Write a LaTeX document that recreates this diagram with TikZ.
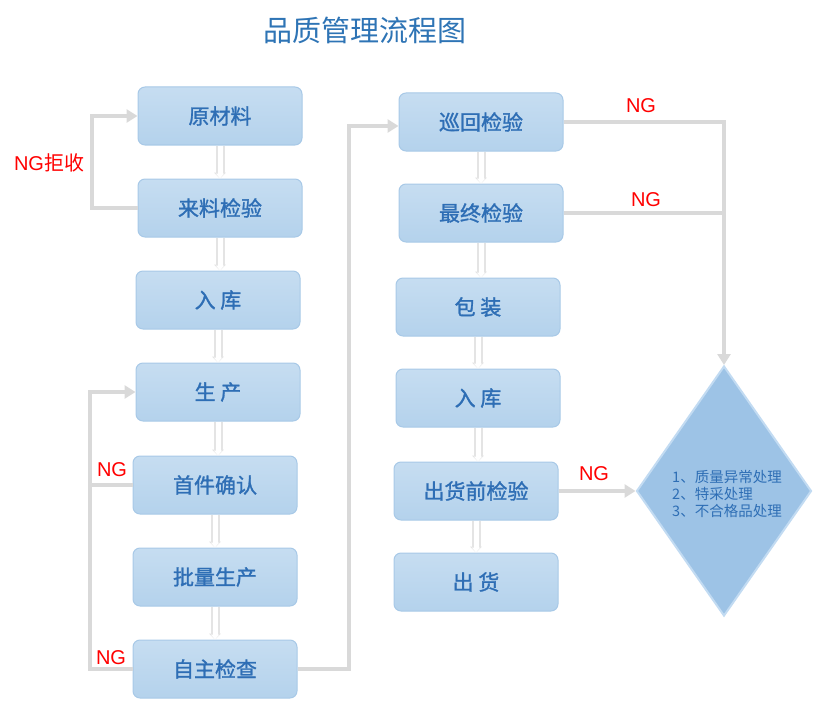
\documentclass[tikz,border=0pt]{standalone}
\usepackage{fontspec}
\setmainfont{Liberation Sans}
\newfontfamily\cjk{Noto Sans CJK SC}
\newfontfamily\cjkbox[FakeBold=1.3]{Noto Sans CJK SC}
\usetikzlibrary{arrows.meta,shapes.geometric,calc}

\definecolor{boxtop}{HTML}{C6DDF1}
\definecolor{boxbot}{HTML}{B4D2EC}
\definecolor{boxedge}{HTML}{A8C9E7}
\definecolor{boxtext}{HTML}{2E6EB5}
\definecolor{linegray}{HTML}{D9D9D9}
\definecolor{shadegray}{HTML}{E4E4E4}
\definecolor{diafill}{HTML}{9DC3E6}
\definecolor{diaedge}{HTML}{C2DBF2}
\definecolor{titleblue}{HTML}{2E74B5}

\tikzset{
  stepbox/.style={draw=boxedge, line width=1pt, rounded corners=7pt,
    top color=boxtop, bottom color=boxbot, minimum width=164pt,
    minimum height=58pt, text=boxtext,
    font=\cjkbox\fontsize{21}{24}\selectfont},
  ngline/.style={draw=linegray, line width=4pt},
  ngarrow/.style={ngline, -{Triangle[length=11pt,width=13pt]}},
  flowarrow/.style={draw=white, line width=5pt, -{Triangle[length=5pt,width=8pt]},
    preaction={draw=shadegray, line width=9pt, -{Triangle[length=6pt,width=12pt]}}},
  nglabel/.style={text=red, font=\fontsize{20}{23}\selectfont}
}

\begin{document}
\begin{tikzpicture}[x=1pt,y=-1pt]
\useasboundingbox (0,0) rectangle (815,701);

% Title
\node[text=titleblue, font=\cjk\fontsize{29}{32}\selectfont] (title) at (365,30) {品质管理流程图};

% Left column
\node[stepbox] (raw) at (220,116) {原材料};
\node[stepbox] (incheck) at (220,208) {来料检验};
\node[stepbox] (store1) at (218,300) {入\ 库};
\node[stepbox] (prod) at (218,392) {生\ 产};
\node[stepbox] (firstcheck) at (215,485) {首件确认};
\node[stepbox] (mass) at (215,577) {批量生产};
\node[stepbox] (selfcheck) at (215,669) {自主检查};

% Right column
\node[stepbox] (patrol) at (481,122) {巡回检验};
\node[stepbox] (final) at (481,213) {最终检验};
\node[stepbox] (pack) at (478,307) {包\ 装};
\node[stepbox] (store2) at (478,398) {入\ 库};
\node[stepbox] (precheck) at (476,491) {出货前检验};
\node[stepbox] (ship) at (476,582) {出\ 货};

% Handling diamond
\node[diamond, draw=diaedge, line width=2pt, fill=diafill, inner sep=0pt,
  minimum width=175pt, minimum height=250pt] (deal) at (724,491) {};
\node[align=left, text=boxtext, font=\cjk\fontsize{14.5}{17}\selectfont] (dealtext) at (727,494)
  {1、质量异常处理\\2、特采处理\\3、不合格品处理};

% Flow arrows
\foreach \a/\b in {raw/incheck, incheck/store1, store1/prod, prod/firstcheck,
  firstcheck/mass, mass/selfcheck, patrol/final, final/pack, pack/store2,
  store2/precheck, precheck/ship}
  \draw[flowarrow] (\a.south) -- (\a.south |- \b.north);

% NG loops
\draw[ngarrow] (incheck.west) -- ++(-46,0) |- (raw.west);
\node[nglabel] (ngreject) at (49,163) {NG\cjk 拒收};

\draw[ngarrow] (selfcheck.west) -- ++(-43,0) |- (prod.west);
\draw[ngline] (firstcheck.west) -- ++(-43,0);
\node[nglabel] (ngfirst) at (112,470) {NG};
\node[nglabel] (ngself) at (111,658) {NG};

% To the right column
\draw[ngarrow] (selfcheck.east) -- ++(51,0) |- ($(patrol.west)+(0,4)$);

% To the handling
\draw[ngarrow] (patrol.east) -| (deal.north);
\draw[ngline] (final.east) -- (final.east -| deal.north);
\draw[ngarrow] (precheck.east) -- (deal.west);
\node[nglabel] (ngpatrol) at (641,106) {NG};
\node[nglabel] (ngfinal) at (646,200) {NG};
\node[nglabel] (ngpre) at (594,474) {NG};

\end{tikzpicture}
\end{document}
